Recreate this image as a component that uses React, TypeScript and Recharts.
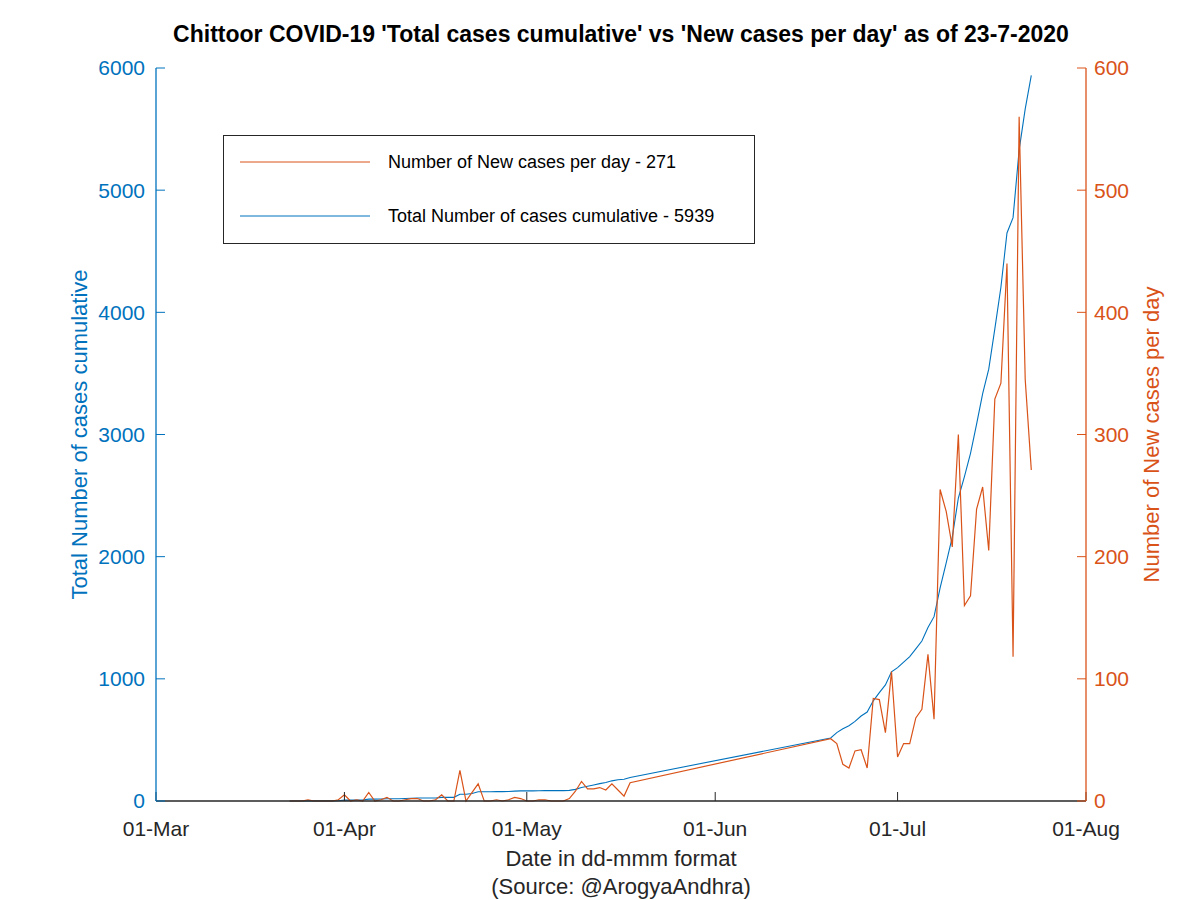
import React from 'react';
import { LineChart, Line, XAxis, YAxis, Legend } from 'recharts';

// Days counted from 01-Mar-2020 (day 0)
const dayNumbers = [
  22, 23, 24, 25, 26, 27, 28, 29, 30, 31, 32, 33, 34, 35, 36, 37, 38, 39, 40, 41,
  42, 43, 44, 45, 46, 47, 48, 49, 50, 51, 52, 53, 54, 55, 56, 57, 58, 59, 60, 61,
  62, 63, 64, 65, 66, 67, 68, 69, 70, 71, 72, 73, 74, 75, 76, 77, 78,
  111, 112, 113, 114, 115, 116, 117, 118, 119, 120, 121, 122, 123, 124, 125, 126,
  127, 128, 129, 130, 131, 132, 133, 134, 135, 136, 137, 138, 139, 140, 141, 142,
  143, 144,
];

const newCasesPerDay = [
  0, 0, 0, 1, 0, 0, 0, 0, 1, 5, 0, 1, 0, 7, 0, 1, 3, 0, 0, 1,
  2, 2, 0, 0, 1, 5, 0, 0, 25, 0, 7, 14, 0, 0, 1, 0, 1, 3, 2, 0,
  0, 1, 1, 0, 0, 0, 2, 8, 16, 10, 10, 11, 9, 14, 9, 4, 15,
  51, 47, 30, 27, 41, 42, 27, 84, 83, 56, 106, 36, 47, 47, 68, 75,
  120, 67, 255, 237, 208, 300, 160, 168, 239, 257, 205, 329, 342, 440, 118, 560,
  345, 271,
];

const totalCasesCumulative = [
  0, 0, 0, 1, 1, 1, 1, 1, 2, 7, 7, 8, 8, 15, 15, 16, 19, 19, 19, 20,
  22, 24, 24, 24, 25, 30, 30, 30, 55, 55, 62, 76, 76, 76, 77, 77, 78, 81, 83, 83,
  83, 84, 85, 85, 85, 85, 87, 95, 111, 121, 131, 142, 151, 165, 174, 178, 193,
  516, 560, 592, 616, 652, 696, 728, 820, 887, 950, 1058, 1092, 1137, 1182, 1245, 1310,
  1420, 1509, 1745, 1950, 2160, 2480, 2655, 2846, 3085, 3335, 3535, 3865, 4205, 4650, 4775, 5330,
  5665, 5939,
];

const xTickDays = [0, 31, 61, 92, 122, 153];
const xTickLabels = ['01-Mar', '01-Apr', '01-May', '01-Jun', '01-Jul', '01-Aug'];
const leftTicks = [0, 1000, 2000, 3000, 4000, 5000, 6000];
const rightTicks = [0, 100, 200, 300, 400, 500, 600];
const seriesNames = ['Number of New cases per day - 271', 'Total Number of cases cumulative - 5939'];
const titleText = "Chittoor COVID-19 'Total cases cumulative' vs 'New cases per day' as of 23-7-2020";
const leftAxisTitle = 'Total Number of cases cumulative';
const rightAxisTitle = 'Number of New cases per day';
const xAxisTitle = ['Date in dd-mmm format', '(Source: @ArogyaAndhra)'];

const data = dayNumbers.map((d, i) => ({
  day: d,
  newCases: newCasesPerDay[i],
  total: totalCasesCumulative[i],
}));

const BLUE = '#0072BD';
const ORANGE = '#D95319';
const DARK = '#262626';
const FONT = '"Liberation Sans", Arial, Helvetica, sans-serif';

const LegendBox = () => (
  <div
    style={{
      width: 532,
      height: 109,
      border: `1px solid ${DARK}`,
      background: '#fff',
      boxSizing: 'border-box',
    }}
  >
    <svg width={530} height={107} style={{ display: 'block' }}>
      <line x1={16} y1={26} x2={146} y2={26} stroke={ORANGE} strokeWidth={1} />
      <text x={164} y={26} dominantBaseline="central" fontSize={18} fontFamily={FONT} fill="#000">
        {seriesNames[0]}
      </text>
      <line x1={16} y1={80} x2={146} y2={80} stroke={BLUE} strokeWidth={1} />
      <text x={164} y={80} dominantBaseline="central" fontSize={18} fontFamily={FONT} fill="#000">
        {seriesNames[1]}
      </text>
    </svg>
  </div>
);

const LeftLabel = (props: any) => {
  const vb = props.viewBox || { x: 0, y: 68, width: 156, height: 733 };
  const cx = vb.x + 87;
  const cy = vb.y + vb.height / 2;
  return (
    <text x={cx} y={cy} transform={`rotate(-90, ${cx}, ${cy})`} textAnchor="middle" fontSize={22} fontFamily={FONT} fill={BLUE}>
      {leftAxisTitle}
    </text>
  );
};

const RightLabel = (props: any) => {
  const vb = props.viewBox || { x: 1086, y: 68, width: 114, height: 733 };
  const cx = vb.x + 73;
  const cy = vb.y + vb.height / 2;
  return (
    <text x={cx} y={cy} transform={`rotate(-90, ${cx}, ${cy})`} textAnchor="middle" fontSize={22} fontFamily={FONT} fill={ORANGE}>
      {rightAxisTitle}
    </text>
  );
};

const BottomLabel = (props: any) => {
  const vb = props.viewBox || { x: 156, y: 801, width: 930, height: 99 };
  const cx = vb.x + vb.width / 2;
  return (
    <g>
      <text x={cx} y={vb.y + 65} textAnchor="middle" fontSize={22} fontFamily={FONT} fill={DARK}>
        {xAxisTitle[0]}
      </text>
      <text x={cx} y={vb.y + 93} textAnchor="middle" fontSize={22} fontFamily={FONT} fill={DARK}>
        {xAxisTitle[1]}
      </text>
    </g>
  );
};

export default function App() {
  return (
    <div style={{ position: 'absolute', left: 0, top: 0, width: 1200, height: 900, background: '#fff' }}>
      <div
        style={{
          position: 'absolute',
          left: 621,
          top: 23,
          transform: 'translateX(-50%)',
          whiteSpace: 'nowrap',
          fontFamily: FONT,
          fontWeight: 'bold',
          fontSize: 23,
          lineHeight: '23px',
          color: '#000',
          zIndex: 2,
        }}
      >
        {titleText}
      </div>
      <LineChart
        width={1200}
        height={900}
        data={data}
        margin={{ top: 68, right: 0, bottom: 0, left: 0 }}
        style={{ fontFamily: FONT }}
      >
        <XAxis
          xAxisId="bottom"
          dataKey="day"
          type="number"
          domain={[0, 153]}
          ticks={xTickDays}
          tickFormatter={(v: number) => xTickLabels[xTickDays.indexOf(v)] ?? ''}
          orientation="bottom"
          height={99}
          interval={0}
          tickSize={-9}
          tickMargin={29}
          axisLine={{ stroke: DARK, strokeWidth: 1.3 }}
          tickLine={{ stroke: DARK, strokeWidth: 1 }}
          tick={{ fill: DARK, fontSize: 21, fontFamily: FONT }}
          label={<BottomLabel />}
        />
        <XAxis
          xAxisId="top"
          dataKey="day"
          type="number"
          domain={[0, 153]}
          ticks={xTickDays}
          orientation="top"
          height={0}
          interval={0}
          tickSize={-9}
          tick={false}
          axisLine={{ stroke: DARK, strokeWidth: 1.3 }}
          tickLine={{ stroke: DARK, strokeWidth: 1 }}
        />
        <YAxis
          yAxisId="left"
          orientation="left"
          domain={[0, 6000]}
          ticks={leftTicks}
          width={156}
          interval={0}
          tickSize={-9}
          tickMargin={20}
          axisLine={{ stroke: BLUE, strokeWidth: 1.3 }}
          tickLine={{ stroke: BLUE, strokeWidth: 1 }}
          tick={{ fill: BLUE, fontSize: 21, fontFamily: FONT }}
          label={<LeftLabel />}
        />
        <YAxis
          yAxisId="right"
          orientation="right"
          domain={[0, 600]}
          ticks={rightTicks}
          width={114}
          interval={0}
          tickSize={-9}
          tickMargin={17}
          axisLine={{ stroke: ORANGE, strokeWidth: 1.3 }}
          tickLine={{ stroke: ORANGE, strokeWidth: 1 }}
          tick={{ fill: ORANGE, fontSize: 21, fontFamily: FONT }}
          label={<RightLabel />}
        />
        <Legend
          layout="horizontal"
          verticalAlign="middle"
          align="center"
          content={() => <LegendBox />}
          wrapperStyle={{ position: 'absolute', left: 223, top: 135, width: 532, height: 109 }}
        />
        <Line
          xAxisId="bottom"
          yAxisId="left"
          type="linear"
          dataKey="total"
          name={seriesNames[1]}
          stroke={BLUE}
          strokeWidth={1.1}
          dot={false}
          activeDot={false}
          isAnimationActive={false}
        />
        <Line
          xAxisId="bottom"
          yAxisId="right"
          type="linear"
          dataKey="newCases"
          name={seriesNames[0]}
          stroke={ORANGE}
          strokeWidth={1.2}
          dot={false}
          activeDot={false}
          isAnimationActive={false}
        />
      </LineChart>
    </div>
  );
}
